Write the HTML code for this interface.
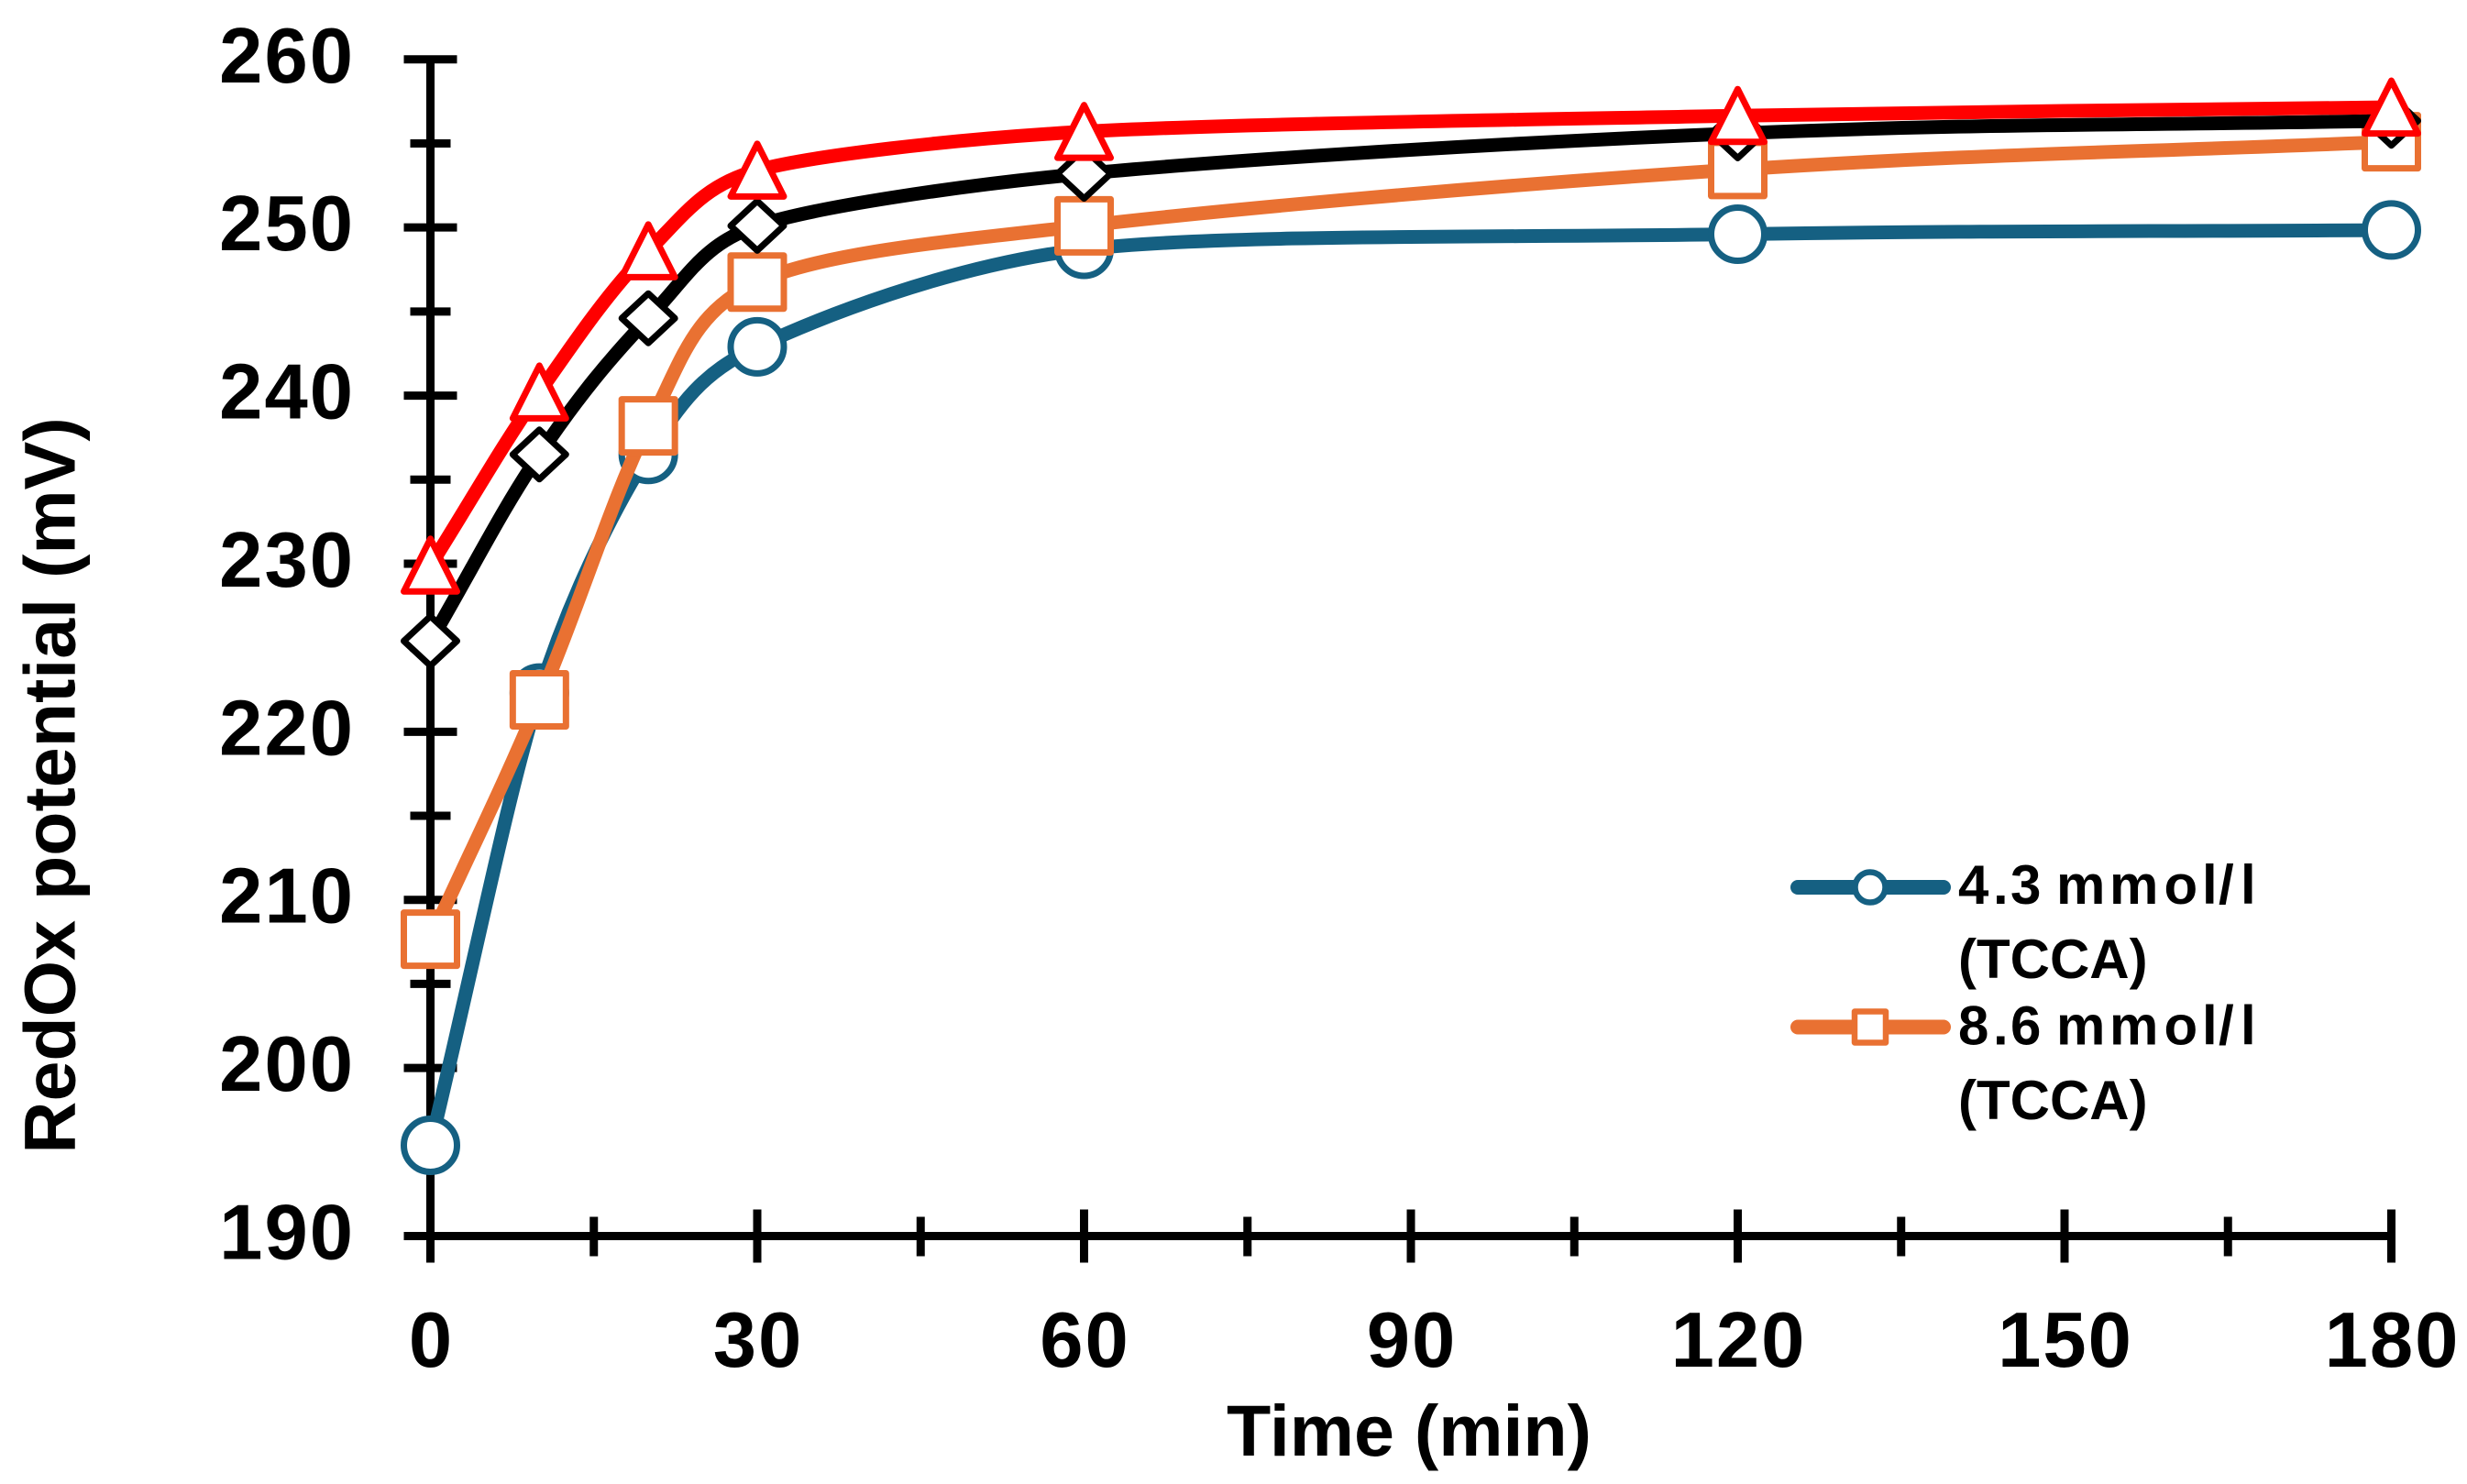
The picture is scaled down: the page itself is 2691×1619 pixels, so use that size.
<!DOCTYPE html>
<html lang="en">
<head>
<meta charset="utf-8">
<title>RedOx potential over time</title>
<style>
html,body{margin:0;padding:0;background:#fff;width:2691px;height:1619px;overflow:hidden}
svg{display:block}
text{font-family:"Liberation Sans",Arial,sans-serif;font-weight:700;fill:#000}
</style>
</head>
<body>
<svg id="chart" xmlns="http://www.w3.org/2000/svg" width="2691" height="1619" viewBox="0 0 2691 1619">
  <rect x="0" y="0" width="2691" height="1619" fill="#fff"/>
  <g id="axes"></g>
  <g id="series"></g>
  <text transform="translate(81.5 857) rotate(-90)" text-anchor="middle" font-size="79">RedOx potential (mV)</text>
  <text x="1537" y="1588" text-anchor="middle" font-size="79">Time (min)</text>
  <g>
    <g>
      <line x1="1961" y1="968" x2="2120" y2="968" stroke="#156082" stroke-width="16" stroke-linecap="round"/>
      <circle cx="2040" cy="968" r="16.5" fill="#fff" stroke="#156082" stroke-width="6.5"/>
      <text x="2136 2174 2193 2227 2243 2301 2360.5 2402 2420 2444" y="986" font-size="60">4.3 mmol/l</text>
      <text x="2136" y="1067" font-size="60">(TCCA)</text>
    </g>
    <g>
      <line x1="1961" y1="1120.5" x2="2120" y2="1120.5" stroke="#E97132" stroke-width="16" stroke-linecap="round"/>
      <rect x="2023" y="1103.5" width="34" height="34" fill="#fff" stroke="#E97132" stroke-width="6.5" stroke-linejoin="round"/>
      <text x="2136 2174 2193 2227 2243 2301 2360.5 2402 2420 2444" y="1139.5" font-size="60">8.6 mmol/l</text>
      <text x="2136" y="1221" font-size="60">(TCCA)</text>
    </g>
  </g>
</svg>
<script>
const times = [0, 10, 20, 30, 60, 120, 180];
const values43 = [195.4, 222.3, 236.5, 242.9, 248.7, 249.6, 249.85];
const values86 = [207.66, 221.9, 238.2, 246.75, 250.1, 253.45, 255.1];
const valuesBlack = [225.4, 236.5, 244.6, 250.1, 253.2, 255.6, 256.35];
const valuesRed = [229.9, 240.2, 248.6, 253.4, 255.7, 256.65, 257.15];
const xTickValues = [0, 15, 30, 45, 60, 75, 90, 105, 120, 135, 150, 165, 180];
const xTickLabels = ['0', '', '30', '', '60', '', '90', '', '120', '', '150', '', '180'];
const yTickValues = [190, 195, 200, 205, 210, 215, 220, 225, 230, 235, 240, 245, 250, 255, 260];
const yTickLabels = ['190', '', '200', '', '210', '', '220', '', '230', '', '240', '', '250', '', '260'];

const NS = 'http://www.w3.org/2000/svg';
function xScale(t) { return 469.5 + (t - 0) * (2608.5 - 469.5) / 180; }
function yScale(v) { return 1348.5 - (v - 190) * (1348.5 - 64.8) / 70; }

function make(tag, attrs, parent) {
  const el = document.createElementNS(NS, tag);
  for (const k in attrs) el.setAttribute(k, attrs[k]);
  parent.appendChild(el);
  return el;
}

const axes = document.getElementById('axes');
const AXIS = { stroke: '#000', 'stroke-width': 9 };

const yAxisLine = make('line', Object.assign({ x1: xScale(0), x2: xScale(0), y1: yScale(260) - 4, y2: yScale(190) + 4 }, AXIS), axes);



const xAxisLine = make('line', Object.assign({ x1: xScale(0), x2: xScale(180) + 4, y1: yScale(190), y2: yScale(190) }, AXIS), axes);



yTickValues.forEach(function (v, i) {
  const major = yTickLabels[i] !== '';
  const half = major ? 29 : 22;
  const tick = make('line', Object.assign({ x1: xScale(0) - half, x2: xScale(0) + half, y1: yScale(v), y2: yScale(v) }, AXIS), axes);
  
  
  if (major) {
    const label = make('text', { x: 387, y: yScale(v) + 25, 'text-anchor': 'end', 'font-size': 85, 'letter-spacing': 2 }, axes);
    label.textContent = yTickLabels[i];
    
    
  }
});

xTickValues.forEach(function (t, i) {
  const major = xTickLabels[i] !== '';
  const tick = make('line', Object.assign({
    x1: xScale(t), x2: xScale(t),
    y1: yScale(190) - (major ? 29 : 21),
    y2: yScale(190) + (major ? 29 : 22)
  }, AXIS), axes);
  
  
  if (major) {
    const label = make('text', { x: xScale(t) + 1, y: 1491, 'text-anchor': 'middle', 'font-size': 85, 'letter-spacing': 2 }, axes);
    label.textContent = xTickLabels[i];
    
    
  }
});

function smoothPath(pts) {
  const K = 0.4;
  function dist(a, b) { return Math.hypot(a[0] - b[0], a[1] - b[1]); }
  function tangent(prev, cur, next) {
    const len = dist(prev, next);
    return [(next[0] - prev[0]) / len, (next[1] - prev[1]) / len];
  }
  let d = 'M' + pts[0][0].toFixed(2) + ' ' + pts[0][1].toFixed(2);
  for (let i = 0; i < pts.length - 1; i++) {
    const p1 = pts[i];
    const p2 = pts[i + 1];
    const d12 = dist(p1, p2);
    let c1, c2;
    if (i === 0) {
      c1 = [p1[0] + (p2[0] - p1[0]) * K, p1[1] + (p2[1] - p1[1]) * K];
    } else {
      const p0 = pts[i - 1];
      const u = tangent(p0, p1, p2);
      const L = K * Math.min(dist(p0, p1), d12);
      c1 = [p1[0] + u[0] * L, p1[1] + u[1] * L];
    }
    if (i === pts.length - 2) {
      c2 = [p2[0] - (p2[0] - p1[0]) * K, p2[1] - (p2[1] - p1[1]) * K];
    } else {
      const p3 = pts[i + 2];
      const u = tangent(p1, p2, p3);
      const L = K * Math.min(dist(p2, p3), d12);
      c2 = [p2[0] - u[0] * L, p2[1] - u[1] * L];
    }
    d += 'C' + c1[0].toFixed(2) + ' ' + c1[1].toFixed(2) + ' ' + c2[0].toFixed(2) + ' ' + c2[1].toFixed(2) + ' ' + p2[0].toFixed(2) + ' ' + p2[1].toFixed(2);
  }
  return d;
}

const seriesGroup = document.getElementById('series');

function drawMarker(kind, x, y, color, parent) {
  const base = { fill: '#fff', stroke: color, 'stroke-width': 7, 'stroke-linejoin': 'round' };
  let m;
  if (kind === 'circle') {
    m = make('circle', Object.assign({ cx: x, cy: y, r: 29 }, base), parent);
  } else if (kind === 'square') {
    m = make('rect', Object.assign({ x: x - 29, y: y - 29, width: 58, height: 58 }, base), parent);
  } else if (kind === 'diamond') {
    m = make('polygon', Object.assign({ points: [x - 29, y, x, y - 27, x + 29, y, x, y + 27].join(' ') }, base), parent);
  } else {
    m = make('polygon', Object.assign({ points: [x, y - 29, x + 29, y + 28.5, x - 29, y + 28.5].join(' ') }, base), parent);
  }
  
  
}

function drawSeries(name, values, color, kind) {
  const g = make('g', {}, seriesGroup);
  
  
  const pts = times.map(function (t, i) { return [xScale(t), yScale(values[i])]; });
  const line = make('path', { d: smoothPath(pts), fill: 'none', stroke: color, 'stroke-width': 15, 'stroke-linecap': 'round', 'stroke-linejoin': 'round' }, g);
  
  
  pts.forEach(function (p) { drawMarker(kind, p[0], p[1], color, g); });
}

drawSeries('series-4-3-mmol', values43, '#156082', 'circle');
drawSeries('series-8-6-mmol', values86, '#E97132', 'square');
drawSeries('series-black', valuesBlack, '#000000', 'diamond');
drawSeries('series-red', valuesRed, '#FF0000', 'triangle');
</script>
</body>
</html>
